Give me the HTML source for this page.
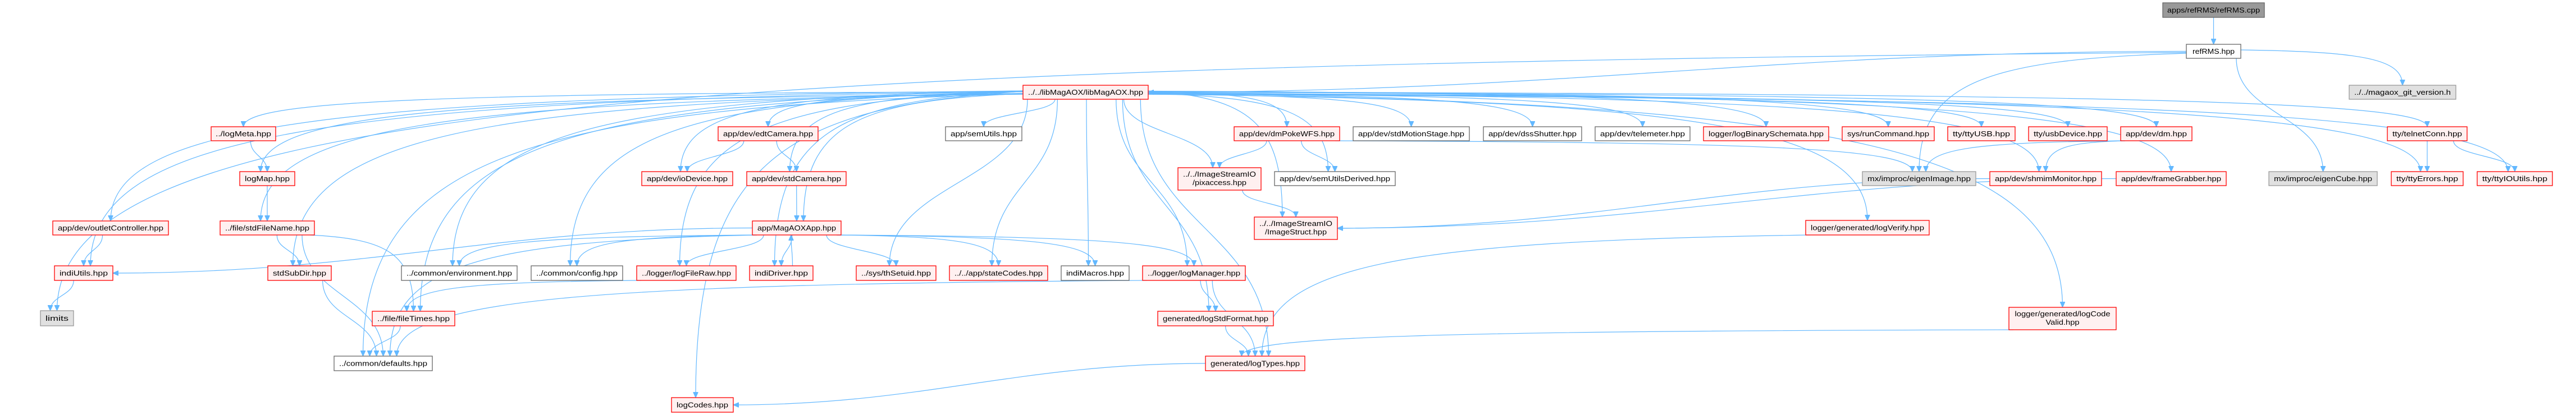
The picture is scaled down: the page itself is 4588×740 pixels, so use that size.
<!DOCTYPE html>
<html><head><meta charset="utf-8"><style>
html,body{margin:0;padding:0;background:#fff;width:4588px;height:740px;overflow:hidden}
svg{display:block}
text{font-family:"Liberation Sans",sans-serif;font-size:13px;fill:#000}
.r{fill:#fff0f0;stroke:#ff0000;stroke-width:1.3}
.w{fill:#fff;stroke:#666;stroke-width:1.3}
.g{fill:#e0e0e0;stroke:#999;stroke-width:1.3}
.d{fill:#999;stroke:#666;stroke-width:1.3}
#E path{fill:none;stroke:#63b8ff;stroke-width:1.2}
</style></head><body>
<svg id="S" width="4588" height="740" viewBox="0 0 4588 740" xmlns="http://www.w3.org/2000/svg">
<defs><marker id="ah" markerWidth="11" markerHeight="9" refX="10" refY="4.5" orient="auto" markerUnits="userSpaceOnUse"><path d="M0,0 L10,4.5 L0,9 z" fill="#63b8ff" stroke="#63b8ff"/></marker></defs>
<g id="E"></g>
<g id="N">
<rect id="cpp" class="d" x="3852" y="5" width="181" height="26"/><text x="3942.5" y="22.5" text-anchor="middle" textLength="165" lengthAdjust="spacingAndGlyphs">apps/refRMS/refRMS.cpp</text>
<rect id="rhpp" class="w" x="3894" y="79" width="97" height="25"/><text x="3942.5" y="96" text-anchor="middle" textLength="75" lengthAdjust="spacingAndGlyphs">refRMS.hpp</text>
<rect id="git" class="g" x="4184" y="152" width="190" height="25"/><text x="4279" y="169" text-anchor="middle" textLength="172" lengthAdjust="spacingAndGlyphs">../../magaox_git_version.h</text>
<rect id="lib" class="r" x="1822" y="152" width="223" height="25"/><text x="1933.5" y="169" text-anchor="middle" textLength="205" lengthAdjust="spacingAndGlyphs">../../libMagAOX/libMagAOX.hpp</text>

<rect id="logMeta" class="r" x="376" y="226" width="115" height="25"/><text x="433.5" y="243" text-anchor="middle" textLength="99" lengthAdjust="spacingAndGlyphs">../logMeta.hpp</text>
<rect id="edt" class="r" x="1279" y="226" width="178" height="25"/><text x="1368" y="243" text-anchor="middle" textLength="160" lengthAdjust="spacingAndGlyphs">app/dev/edtCamera.hpp</text>
<rect id="semU" class="w" x="1684" y="226" width="136" height="25"/><text x="1752" y="243" text-anchor="middle" textLength="118" lengthAdjust="spacingAndGlyphs">app/semUtils.hpp</text>
<rect id="poke" class="r" x="2198" y="226" width="188" height="25"/><text x="2292" y="243" text-anchor="middle" textLength="170" lengthAdjust="spacingAndGlyphs">app/dev/dmPokeWFS.hpp</text>
<rect id="motion" class="w" x="2410" y="226" width="207" height="25"/><text x="2513.5" y="243" text-anchor="middle" textLength="189" lengthAdjust="spacingAndGlyphs">app/dev/stdMotionStage.hpp</text>
<rect id="dss" class="w" x="2642" y="226" width="175" height="25"/><text x="2729.5" y="243" text-anchor="middle" textLength="157" lengthAdjust="spacingAndGlyphs">app/dev/dssShutter.hpp</text>
<rect id="tele" class="w" x="2841" y="226" width="169" height="25"/><text x="2925.5" y="243" text-anchor="middle" textLength="151" lengthAdjust="spacingAndGlyphs">app/dev/telemeter.hpp</text>
<rect id="bin" class="r" x="3034" y="226" width="223" height="25"/><text x="3145.5" y="243" text-anchor="middle" textLength="205" lengthAdjust="spacingAndGlyphs">logger/logBinarySchemata.hpp</text>
<rect id="run" class="r" x="3281" y="226" width="164" height="25"/><text x="3363" y="243" text-anchor="middle" textLength="146" lengthAdjust="spacingAndGlyphs">sys/runCommand.hpp</text>
<rect id="ttyusb" class="r" x="3469" y="226" width="120" height="25"/><text x="3529" y="243" text-anchor="middle" textLength="102" lengthAdjust="spacingAndGlyphs">tty/ttyUSB.hpp</text>
<rect id="usbdev" class="r" x="3613" y="226" width="140" height="25"/><text x="3683" y="243" text-anchor="middle" textLength="122" lengthAdjust="spacingAndGlyphs">tty/usbDevice.hpp</text>
<rect id="dm" class="r" x="3777" y="226" width="127" height="25"/><text x="3840.5" y="243" text-anchor="middle" textLength="109" lengthAdjust="spacingAndGlyphs">app/dev/dm.hpp</text>
<rect id="telnet" class="r" x="4252" y="226" width="142" height="25"/><text x="4323" y="243" text-anchor="middle" textLength="124" lengthAdjust="spacingAndGlyphs">tty/telnetConn.hpp</text>

<rect id="logMap" class="r" x="427" y="306" width="98" height="25"/><text x="476" y="323" text-anchor="middle" textLength="80" lengthAdjust="spacingAndGlyphs">logMap.hpp</text>
<rect id="io" class="r" x="1143" y="306" width="162" height="25"/><text x="1224" y="323" text-anchor="middle" textLength="144" lengthAdjust="spacingAndGlyphs">app/dev/ioDevice.hpp</text>
<rect id="stdcam" class="r" x="1330" y="306" width="177" height="25"/><text x="1418.5" y="323" text-anchor="middle" textLength="159" lengthAdjust="spacingAndGlyphs">app/dev/stdCamera.hpp</text>
<rect id="pix" class="r" x="2098" y="299" width="148" height="40"/><text x="2172" y="315" text-anchor="middle" textLength="130" lengthAdjust="spacingAndGlyphs">../../ImageStreamIO</text><text x="2172" y="330" text-anchor="middle" textLength="96" lengthAdjust="spacingAndGlyphs">/pixaccess.hpp</text>
<rect id="semD" class="w" x="2270" y="306" width="215" height="25"/><text x="2377.5" y="323" text-anchor="middle" textLength="197" lengthAdjust="spacingAndGlyphs">app/dev/semUtilsDerived.hpp</text>
<rect id="eImg" class="g" x="3317" y="306" width="202" height="25"/><text x="3418" y="323" text-anchor="middle" textLength="184" lengthAdjust="spacingAndGlyphs">mx/improc/eigenImage.hpp</text>
<rect id="shm" class="r" x="3544" y="306" width="199" height="25"/><text x="3643.5" y="323" text-anchor="middle" textLength="181" lengthAdjust="spacingAndGlyphs">app/dev/shmimMonitor.hpp</text>
<rect id="fg" class="r" x="3769" y="306" width="196" height="25"/><text x="3867" y="323" text-anchor="middle" textLength="178" lengthAdjust="spacingAndGlyphs">app/dev/frameGrabber.hpp</text>
<rect id="eCube" class="g" x="4041" y="306" width="193" height="25"/><text x="4137.5" y="323" text-anchor="middle" textLength="175" lengthAdjust="spacingAndGlyphs">mx/improc/eigenCube.hpp</text>
<rect id="ttyErr" class="r" x="4259" y="306" width="128" height="25"/><text x="4323" y="323" text-anchor="middle" textLength="110" lengthAdjust="spacingAndGlyphs">tty/ttyErrors.hpp</text>
<rect id="ttyIO" class="r" x="4412" y="306" width="134" height="25"/><text x="4479" y="323" text-anchor="middle" textLength="116" lengthAdjust="spacingAndGlyphs">tty/ttyIOUtils.hpp</text>

<rect id="outlet" class="r" x="94" y="394" width="206" height="25"/><text x="197" y="411" text-anchor="middle" textLength="188" lengthAdjust="spacingAndGlyphs">app/dev/outletController.hpp</text>
<rect id="sfn" class="r" x="392" y="394" width="168" height="25"/><text x="476" y="411" text-anchor="middle" textLength="150" lengthAdjust="spacingAndGlyphs">../file/stdFileName.hpp</text>
<rect id="app" class="r" x="1340" y="394" width="158" height="25"/><text x="1419" y="411" text-anchor="middle" textLength="140" lengthAdjust="spacingAndGlyphs">app/MagAOXApp.hpp</text>
<rect id="istr" class="r" x="2234" y="387" width="148" height="40"/><text x="2308" y="403" text-anchor="middle" textLength="130" lengthAdjust="spacingAndGlyphs">../../ImageStreamIO</text><text x="2308" y="418" text-anchor="middle" textLength="110" lengthAdjust="spacingAndGlyphs">/ImageStruct.hpp</text>
<rect id="verify" class="r" x="3216" y="393" width="220" height="26"/><text x="3326" y="410.5" text-anchor="middle" textLength="202" lengthAdjust="spacingAndGlyphs">logger/generated/logVerify.hpp</text>

<rect id="iutil" class="r" x="97" y="474" width="104" height="26"/><text x="149" y="491.5" text-anchor="middle" textLength="86" lengthAdjust="spacingAndGlyphs">indiUtils.hpp</text>
<rect id="ssd" class="r" x="477" y="474" width="113" height="26"/><text x="533.5" y="491.5" text-anchor="middle" textLength="95" lengthAdjust="spacingAndGlyphs">stdSubDir.hpp</text>
<rect id="env" class="w" x="715" y="474" width="206" height="26"/><text x="818" y="491.5" text-anchor="middle" textLength="188" lengthAdjust="spacingAndGlyphs">../common/environment.hpp</text>
<rect id="conf" class="w" x="946" y="474" width="163" height="26"/><text x="1027.5" y="491.5" text-anchor="middle" textLength="145" lengthAdjust="spacingAndGlyphs">../common/config.hpp</text>
<rect id="lfr" class="r" x="1134" y="474" width="177" height="26"/><text x="1222.5" y="491.5" text-anchor="middle" textLength="159" lengthAdjust="spacingAndGlyphs">../logger/logFileRaw.hpp</text>
<rect id="idrv" class="r" x="1335" y="474" width="113" height="26"/><text x="1391.5" y="491.5" text-anchor="middle" textLength="95" lengthAdjust="spacingAndGlyphs">indiDriver.hpp</text>
<rect id="thset" class="r" x="1525" y="474" width="142" height="26"/><text x="1596" y="491.5" text-anchor="middle" textLength="124" lengthAdjust="spacingAndGlyphs">../sys/thSetuid.hpp</text>
<rect id="state" class="r" x="1691" y="474" width="175" height="26"/><text x="1778.5" y="491.5" text-anchor="middle" textLength="157" lengthAdjust="spacingAndGlyphs">../../app/stateCodes.hpp</text>
<rect id="imac" class="w" x="1890" y="474" width="121" height="26"/><text x="1950.5" y="491.5" text-anchor="middle" textLength="103" lengthAdjust="spacingAndGlyphs">indiMacros.hpp</text>
<rect id="lman" class="r" x="2035" y="474" width="183" height="26"/><text x="2126.5" y="491.5" text-anchor="middle" textLength="165" lengthAdjust="spacingAndGlyphs">../logger/logManager.hpp</text>

<rect id="lim" class="g" x="72" y="554" width="59" height="27"/><text x="101.5" y="572" text-anchor="middle" textLength="41" lengthAdjust="spacingAndGlyphs">limits</text>
<rect id="ftimes" class="r" x="663" y="555" width="147" height="26"/><text x="736.5" y="572.5" text-anchor="middle" textLength="129" lengthAdjust="spacingAndGlyphs">../file/fileTimes.hpp</text>
<rect id="lsf" class="r" x="2062" y="555" width="206" height="26"/><text x="2165" y="572.5" text-anchor="middle" textLength="188" lengthAdjust="spacingAndGlyphs">generated/logStdFormat.hpp</text>
<rect id="lcv" class="r" x="3578" y="548" width="191" height="40"/><text x="3673.5" y="564" text-anchor="middle" textLength="170" lengthAdjust="spacingAndGlyphs">logger/generated/logCode</text><text x="3673.5" y="579" text-anchor="middle" textLength="60" lengthAdjust="spacingAndGlyphs">Valid.hpp</text>

<rect id="defs" class="w" x="595" y="635" width="175" height="26"/><text x="682.5" y="652.5" text-anchor="middle" textLength="157" lengthAdjust="spacingAndGlyphs">../common/defaults.hpp</text>
<rect id="ltyp" class="r" x="2147" y="635" width="177" height="26"/><text x="2235.5" y="652.5" text-anchor="middle" textLength="159" lengthAdjust="spacingAndGlyphs">generated/logTypes.hpp</text>
<rect id="lcod" class="r" x="1196" y="709" width="110" height="26"/><text x="1251" y="726.5" text-anchor="middle" textLength="92" lengthAdjust="spacingAndGlyphs">logCodes.hpp</text>
</g>
</svg>
<script>
(function(){
function B(id){var r=document.getElementById(id);return {x:+r.getAttribute('x'),y:+r.getAttribute('y'),w:+r.getAttribute('width'),h:+r.getAttribute('height')};}
var E=document.getElementById('E');
function P(d){var p=document.createElementNS('http://www.w3.org/2000/svg','path');p.setAttribute('d',d);p.setAttribute('marker-end','url(#ah)');E.appendChild(p);}
var libT=['logMeta','logMap','sfn','ssd','outlet','iutil','lcod','env','conf','defs','lfr','idrv','edt','io','stdcam','app','semU','thset','state','imac','lman','pix','semD','istr','poke','motion','dss','tele','bin','run','ttyusb','usbdev','dm','telnet','ttyErr','ttyIO','shm','fg','verify','lcv','lsf','ltyp','ftimes'];
var edges=[['cpp','rhpp'],['rhpp','lib','L'],['rhpp','git'],['rhpp','eCube'],['rhpp','eImg'],['rhpp','lim'],
['logMeta','logMap'],['logMap','sfn'],['sfn','ssd'],['sfn','ftimes'],['sfn','defs'],['ssd','defs'],['outlet','iutil'],['iutil','lim'],
['edt','io'],['edt','stdcam'],['stdcam','app'],['app','env'],['app','conf'],['app','lfr'],['app','idrv'],['app','thset'],['app','state'],['app','imac'],['app','lman'],['app','iutil','L'],['app','defs'],['idrv','app','U'],['lfr','ftimes'],['ftimes','defs'],
['lman','defs'],['lman','lsf'],['lman','ltyp'],['lsf','ltyp'],['ltyp','lcod','L'],['poke','pix'],['poke','semD'],['poke','eImg'],['pix','istr'],['shm','istr','L'],['fg','istr','L'],['dm','eImg'],['dm','shm'],['telnet','ttyErr'],['telnet','ttyIO'],['verify','ltyp'],['lcv','ltyp']];
libT.forEach(function(t){edges.push(['lib',t]);});
var cnt={};
edges.forEach(function(e){
 var a=B(e[0]),b=B(e[1]),m=e[2],sx,sy,tx,ty,d;
 cnt[e[1]]=(cnt[e[1]]||0)+1;var off=(cnt[e[1]]%2?1:-1)*Math.floor(cnt[e[1]]/2)*12;
 if(m==='L'){
  var right=(b.x+b.w/2)<(a.x+a.w/2);
  sx=right?a.x:a.x+a.w;sy=a.y+a.h/2;tx=right?b.x+b.w:b.x;ty=b.y+b.h/2;
  d='M'+sx+','+sy+' C'+(sx+(tx-sx)*0.4)+','+sy+' '+(tx-(tx-sx)*0.4)+','+ty+' '+tx+','+ty;
 }else if(m==='U'){
  sx=a.x+a.w/2+20;sy=a.y;tx=b.x+b.w/2-10;ty=b.y+b.h;
  d='M'+sx+','+sy+' C'+sx+','+(sy-30)+' '+tx+','+(ty+30)+' '+tx+','+ty;
 }else{
  tx=b.x+b.w/2+off;ty=b.y;var cx=a.x+a.w/2,dx=tx-cx;
  if(Math.abs(dx)>a.w*1.3 && (ty-a.y)<Math.abs(dx)*0.9){
   sx=dx<0?a.x+8:a.x+a.w-8;sy=a.y+a.h;if(e[0]==='lib'||e[0]==='rhpp'){sx=dx<0?a.x:a.x+a.w;sy=a.y+a.h*0.5+(Math.abs(dx)%7)-3;}
   d='M'+sx+','+sy+' C'+(sx+(tx-sx)*0.75)+','+(sy+(ty-sy)*0.05)+' '+tx+','+(sy+(ty-sy)*0.25)+' '+tx+','+ty;
  }else{
   sx=cx+Math.max(-a.w/2+8,Math.min(a.w/2-8,dx*0.3));sy=a.y+a.h;
   d='M'+sx+','+sy+' C'+sx+','+(sy+(ty-sy)/2)+' '+tx+','+(ty-(ty-sy)/2)+' '+tx+','+ty;
  }
 }
 P(d);
});
})();
</script>
</body></html>
